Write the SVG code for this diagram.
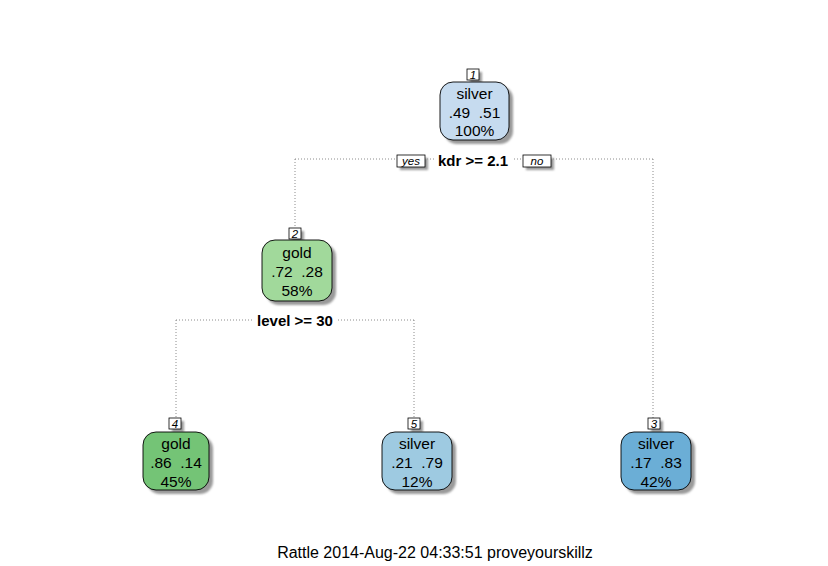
<svg xmlns="http://www.w3.org/2000/svg" width="828" height="566" viewBox="0 0 828 566">
<defs>
<filter id="blur" x="-20%" y="-20%" width="140%" height="140%"><feGaussianBlur stdDeviation="1.2"/></filter>
</defs>
<style>
.sh{fill:#9a9a9a;filter:url(#blur)}
.box{stroke:#000;stroke-width:0.9}
.t{font-family:"Liberation Sans",Arial,sans-serif;font-size:15.5px;fill:#000;text-anchor:middle}
.f{font-family:"Liberation Sans",Arial,sans-serif;font-size:16px;fill:#000;text-anchor:middle}
.b{font-family:"Liberation Sans",Arial,sans-serif;font-size:15px;font-weight:bold;fill:#000;text-anchor:middle}
.n{font-family:"Liberation Sans",Arial,sans-serif;font-size:11.5px;font-style:italic;fill:#000;text-anchor:middle}
.lb{fill:#fff;stroke:#000;stroke-width:0.8}
.ln{fill:none;stroke:#808080;stroke-width:0.9;stroke-dasharray:1 2}
</style>
<rect width="828" height="566" fill="#fff"/>
<g id="connectors">
<path class="ln" d="M295,159 H653 M295,159 V228 M653,159 V418 M176,320 H414 M176,320 V418 M414,320 V418"/>
</g>
<g id="split1">
<rect x="434" y="150" width="78" height="18" fill="#fff"/>
<text class="b" x="473" y="166">kdr &gt;= 2.1</text>
<rect x="400" y="158" width="28" height="12" class="sh"/>
<rect x="397" y="155" width="28" height="12" class="lb"/>
<text class="n" x="411" y="165">yes</text>
<rect x="526" y="158" width="28" height="12" class="sh"/>
<rect x="523" y="155" width="28" height="12" class="lb"/>
<text class="n" x="537" y="165">no</text>
</g>
<g id="split2">
<rect x="252" y="311" width="86" height="18" fill="#fff"/>
<text class="b" x="295" y="326">level &gt;= 30</text>
</g>
<g id="node1">
<rect x="470" y="72" width="12" height="11" class="sh"/>
<rect x="467" y="69" width="12" height="11" class="lb"/>
<text class="n" x="473" y="78.5">1</text>
<rect x="444" y="86" width="69" height="58" rx="13" class="sh"/>
<rect x="440" y="82" width="69" height="58" rx="13" class="box" fill="#c6dbef"/>
<text class="t" x="474.5" y="99">silver</text>
<text class="t" x="474.5" y="118" xml:space="preserve">.49  .51</text>
<text class="t" x="474.5" y="136">100%</text>
</g>
<g id="node2">
<rect x="292" y="231" width="12" height="11" class="sh"/>
<rect x="289" y="228" width="12" height="11" class="lb"/>
<text class="n" x="295" y="237.5">2</text>
<rect x="266" y="244" width="70" height="61" rx="13" class="sh"/>
<rect x="262" y="240" width="70" height="61" rx="13" class="box" fill="#a1d99b"/>
<text class="t" x="297" y="258">gold</text>
<text class="t" x="297" y="277" xml:space="preserve">.72  .28</text>
<text class="t" x="297" y="296">58%</text>
</g>
<g id="node4">
<rect x="172" y="421" width="12" height="11" class="sh"/>
<rect x="169" y="418" width="12" height="11" class="lb"/>
<text class="n" x="175" y="427.5">4</text>
<rect x="147" y="436" width="66" height="58" rx="13" class="sh"/>
<rect x="143" y="432" width="66" height="58" rx="13" class="box" fill="#74c476"/>
<text class="t" x="176" y="449">gold</text>
<text class="t" x="176" y="468" xml:space="preserve">.86  .14</text>
<text class="t" x="176" y="487">45%</text>
</g>
<g id="node5">
<rect x="411" y="421" width="12" height="11" class="sh"/>
<rect x="408" y="418" width="12" height="11" class="lb"/>
<text class="n" x="414" y="427.5">5</text>
<rect x="386" y="436" width="70" height="58" rx="13" class="sh"/>
<rect x="382" y="432" width="70" height="58" rx="13" class="box" fill="#9ecae1"/>
<text class="t" x="417" y="449">silver</text>
<text class="t" x="417" y="468" xml:space="preserve">.21  .79</text>
<text class="t" x="417" y="487">12%</text>
</g>
<g id="node3">
<rect x="651" y="421" width="12" height="11" class="sh"/>
<rect x="648" y="418" width="12" height="11" class="lb"/>
<text class="n" x="654" y="427.5">3</text>
<rect x="625" y="436" width="70" height="58" rx="13" class="sh"/>
<rect x="621" y="432" width="70" height="58" rx="13" class="box" fill="#6baed6"/>
<text class="t" x="656" y="449">silver</text>
<text class="t" x="656" y="468" xml:space="preserve">.17  .83</text>
<text class="t" x="656" y="487">42%</text>
</g>
<text class="f" x="435" y="558">Rattle 2014-Aug-22 04:33:51 proveyourskillz</text>
</svg>
